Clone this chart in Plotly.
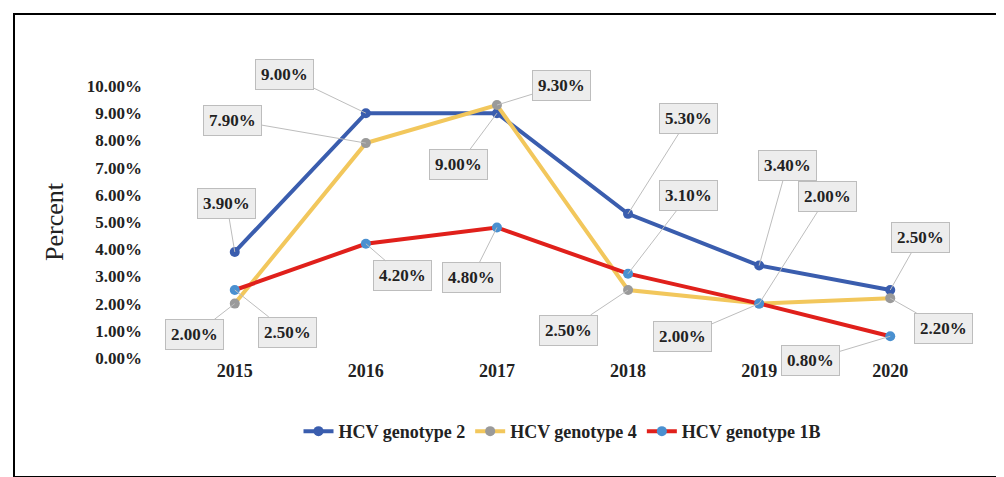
import plotly.graph_objects as go

years = ["2015", "2016", "2017", "2018", "2019", "2020"]
g2 = [3.9, 9.0, 9.0, 5.3, 3.4, 2.5]
g4 = [2.0, 7.9, 9.3, 2.5, 2.0, 2.2]
g1b = [2.5, 4.2, 4.8, 3.1, 2.0, 0.8]

# label offsets in pixels (ax, ay) per point
off_g2 = [(-8, -48), (-81, -39), (-38, 51), (60, -95), (28, -100), (30, -53)]
off_g4 = [(-40, 31), (-133, -23), (65, -20), (-60, 40), (-77, 33), (53, 30)]
off_g1b = [(53, 42), (37, 32), (-25, 50), (60, -78), (68, -107), (-80, 24)]

serif = "Liberation Serif, DejaVu Serif, serif"

fig = go.Figure()
fig.add_trace(go.Scatter(x=years, y=g2, name="HCV genotype 2", mode="lines+markers",
                         line=dict(color="#3a5dae", width=4),
                         marker=dict(color="#3a5dae", size=10)))
fig.add_trace(go.Scatter(x=years, y=g4, name="HCV genotype 4", mode="lines+markers",
                         line=dict(color="#f2c75c", width=4),
                         marker=dict(color="#9a9a9a", size=10)))
fig.add_trace(go.Scatter(x=years, y=g1b, name="HCV genotype 1B", mode="lines+markers",
                         line=dict(color="#e0201b", width=4),
                         marker=dict(color="#4a90d0", size=10)))

for vals, offs in [(g2, off_g2), (g4, off_g4), (g1b, off_g1b)]:
    for i, (v, (ax, ay)) in enumerate(zip(vals, offs)):
        fig.add_annotation(x=i, y=v, xref="x", yref="y", text="<b>%.2f%%</b>" % v,
                           ax=ax, ay=ay, axref="pixel", ayref="pixel",
                           showarrow=True, arrowhead=0, arrowwidth=1, arrowcolor="#bdbdbd",
                           bgcolor="#ededed", bordercolor="#bdbdbd", borderwidth=1, borderpad=5,
                           font=dict(family=serif, size=17, color="#222"))

W, H, L, R, T, B = 1004, 477, 135, 30, 78, 127
pw, ph = W - L - R, H - T - B
fig.add_shape(type="rect", xref="paper", yref="paper",
              x0=-(L - 6) / pw, x1=1 + (R - 6) / pw, y0=-(B - 8) / ph, y1=1 + (T - 6) / ph,
              line=dict(color="black", width=2))

fig.update_layout(
    width=W, height=H, margin=dict(l=L, r=R, t=T, b=B),
    plot_bgcolor="white", paper_bgcolor="white",
    font=dict(family=serif, color="#222"),
    xaxis=dict(type="category", range=[-0.7, 5.7], showgrid=False, showline=False, ticks="",
               tickfont=dict(size=18, family=serif, weight="bold")),
    yaxis=dict(range=[0, 10], dtick=1, showgrid=False, zeroline=False,
               tickformat=".2f", ticksuffix="%",
               tickfont=dict(size=17, family=serif, weight="bold"),
               title=dict(text="Percent", font=dict(size=26, family=serif))),
    legend=dict(orientation="h", x=0.5, xanchor="center", y=-0.27, yanchor="middle",
                font=dict(size=18, family=serif, weight="bold")),
)
fig.write_html("out.html")
